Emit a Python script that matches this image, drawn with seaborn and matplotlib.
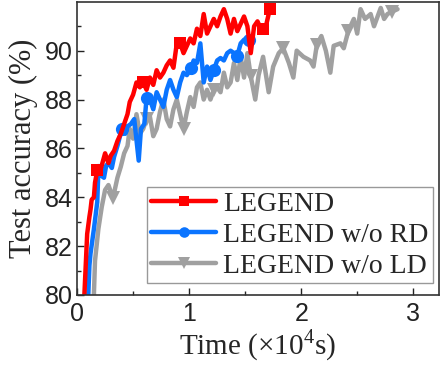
import matplotlib
matplotlib.use("Agg")
import matplotlib.pyplot as plt
import seaborn as sns

# time in 1e4 s, test accuracy in %
red_x = [0.065, 0.08, 0.09, 0.11, 0.12, 0.13, 0.15, 0.16, 0.18, 0.20,
         0.22, 0.25, 0.28, 0.30, 0.33, 0.36, 0.39, 0.42, 0.45, 0.47,
         0.50, 0.53, 0.56, 0.59, 0.62, 0.65, 0.68, 0.71, 0.74, 0.77,
         0.80, 0.83, 0.86, 0.89, 0.92, 0.95, 0.98, 1.01, 1.04, 1.07,
         1.10, 1.13, 1.16, 1.19, 1.22, 1.25, 1.28, 1.31, 1.34, 1.37,
         1.40, 1.43, 1.46, 1.49, 1.52, 1.55, 1.58, 1.61, 1.64, 1.66,
         1.69, 1.72]
red_y = [80.0, 81.5, 82.5, 83.2, 83.5, 83.9, 84.0, 84.6, 85.1, 85.0,
         85.3, 85.8, 85.4, 85.7, 85.9, 86.3, 86.6, 87.0, 87.4, 87.9,
         88.2, 88.7, 88.5, 88.7, 88.4, 88.9, 88.6, 89.2, 88.9, 89.1,
         89.4, 89.6, 89.3, 90.3, 90.3, 89.9, 90.2, 90.5, 90.3, 90.9,
         90.6, 91.5, 90.7, 91.0, 91.3, 91.0, 91.4, 91.7, 91.3, 90.7,
         91.3, 90.8, 91.1, 91.4, 91.0, 89.9, 91.0, 91.2, 90.9, 90.9,
         91.1, 91.7]
red_marks = [8, 23, 34, 59, 61]

blue_x = [0.10, 0.11, 0.12, 0.15, 0.18, 0.19, 0.21, 0.24, 0.26, 0.28,
          0.31, 0.33, 0.36, 0.40, 0.43, 0.45, 0.48, 0.51, 0.55, 0.57,
          0.60, 0.62, 0.65, 0.68, 0.71, 0.74, 0.77, 0.80, 0.83, 0.86,
          0.89, 0.92, 0.95, 0.98, 1.02, 1.04, 1.07, 1.10, 1.13, 1.16,
          1.19, 1.22, 1.25, 1.28, 1.31, 1.34, 1.37, 1.40, 1.43, 1.46,
          1.49, 1.53]
blue_y = [80.0, 81.2, 81.7, 82.7, 83.8, 85.1, 84.9, 84.8, 85.3, 85.4,
          85.2, 85.65, 86.1, 86.8, 86.6, 86.9, 87.0, 87.2, 85.5, 86.8,
          87.0, 88.05, 88.0, 87.6, 88.3, 88.0, 87.7, 88.4, 88.8, 88.4,
          88.1, 88.7, 89.1, 89.0, 89.3, 89.6, 89.5, 90.3, 88.7, 89.35,
          88.8, 89.2, 89.6, 89.7, 89.6, 89.9, 90.0, 89.9, 89.8, 90.3,
          90.45, 90.45]
blue_marks = [5, 13, 21, 34, 41, 48, 51]

gray_x = [0.15, 0.16, 0.19, 0.22, 0.25, 0.28, 0.32, 0.36, 0.39, 0.42,
          0.45, 0.47, 0.50, 0.53, 0.56, 0.59, 0.62, 0.65, 0.68, 0.71,
          0.74, 0.77, 0.80, 0.83, 0.86, 0.89, 0.92, 0.95, 0.98, 1.01,
          1.04, 1.07, 1.10, 1.13, 1.16, 1.19, 1.22, 1.25, 1.28, 1.31,
          1.34, 1.37, 1.40, 1.43, 1.46, 1.49, 1.52, 1.55, 1.59, 1.62,
          1.66, 1.71, 1.75, 1.80, 1.84, 1.89, 1.93, 1.96, 2.02, 2.08,
          2.11, 2.14, 2.18, 2.22, 2.26, 2.29, 2.35, 2.38, 2.42, 2.47,
          2.50, 2.53, 2.57, 2.62, 2.65, 2.71, 2.74, 2.77, 2.81, 2.86]
gray_y = [80.0, 81.4, 82.7, 83.6, 84.3, 84.5, 83.96, 84.8, 85.25, 85.8,
          86.1, 86.8, 86.4, 87.4, 86.6, 86.8, 87.2, 87.3, 86.5, 86.8,
          87.5, 88.0, 87.2, 86.9, 87.6, 88.0, 87.4, 86.8, 87.5, 88.1,
          87.7, 88.5, 88.7, 88.0, 88.4, 88.0, 88.4, 88.5, 88.3, 89.1,
          88.5, 88.7, 89.5, 88.8, 89.75, 88.9, 89.9, 88.95, 88.0, 89.0,
          89.75, 88.3, 89.35, 89.9, 90.1, 89.5, 88.9, 90.0, 89.75, 89.6,
          89.35, 90.25, 90.6, 90.0, 89.1, 90.2, 90.3, 90.1, 90.8, 91.3,
          90.7, 91.7, 91.3, 91.5, 91.0, 91.75, 91.3, 91.5, 91.6, 91.7]
gray_marks = [6, 16, 27, 36, 47, 54, 61, 68, 78]

labels = ["LEGEND", "LEGEND w/o RD", "LEGEND w/o LD"]

sns.set_style("ticks")
plt.rcParams['font.family'] = ['Liberation Sans', 'DejaVu Sans']
plt.rcParams['mathtext.fontset'] = 'custom'
plt.rcParams['mathtext.rm'] = 'Liberation Serif'
plt.rcParams['xtick.direction'] = 'in'
plt.rcParams['ytick.direction'] = 'in'

fig, ax = plt.subplots(figsize=(4.43, 3.66), dpi=100)
fig.subplots_adjust(left=0.174, right=0.991, bottom=0.194, top=0.995)

sns.lineplot(x=gray_x, y=gray_y, ax=ax, color="#a0a0a0", linewidth=3.2,
             marker="v", markersize=10, markevery=gray_marks, markeredgewidth=0,
             label=labels[2], sort=False, errorbar=None)
sns.lineplot(x=blue_x, y=blue_y, ax=ax, color="#0a74ff", linewidth=3.2,
             marker="o", markersize=9.5, markevery=blue_marks, markeredgewidth=0,
             label=labels[1], sort=False, errorbar=None)
sns.lineplot(x=red_x, y=red_y, ax=ax, color="#ff0000", linewidth=3.2,
             marker="s", markersize=9, markevery=red_marks, markeredgewidth=0,
             label=labels[0], sort=False, errorbar=None)

ax.set_xlim(0, 3.23)
ax.set_ylim(80, 92)
ax.set_xticks([0, 1, 2, 3])
ax.set_xticks([0.5, 1.5, 2.5], minor=True)
ax.set_yticks([80, 82, 84, 86, 88, 90])
ax.set_yticks([81, 83, 85, 87, 89, 91], minor=True)
ax.tick_params(which='major', length=5, width=1, labelsize=18, colors='#222222')
ax.tick_params(which='minor', length=3, width=1)
ax.tick_params(axis='x', pad=5)
ax.tick_params(axis='y', pad=3)
for s in ax.spines.values():
    s.set_linewidth(1.2)
    s.set_color('#333333')

ax.set_xlabel("Time (×10$^4$s)", family=['Liberation Serif'], fontsize=21, labelpad=1)
ax.set_ylabel("Test accuracy (%)", family=['Liberation Serif'], fontsize=22, labelpad=5)

h, l = ax.get_legend_handles_labels()
leg = ax.legend(h[::-1], l[::-1], loc='lower right', bbox_to_anchor=(0.983, 0.041),
                borderaxespad=0, fancybox=False, framealpha=1, edgecolor='#999999',
                prop={'family': 'Liberation Serif', 'size': 20}, handlelength=2.35,
                handletextpad=0.25, borderpad=0.15, labelspacing=0.2, markerscale=0.8)
leg.get_frame().set_linewidth(1.0)

fig.savefig("out.png", dpi=100)
